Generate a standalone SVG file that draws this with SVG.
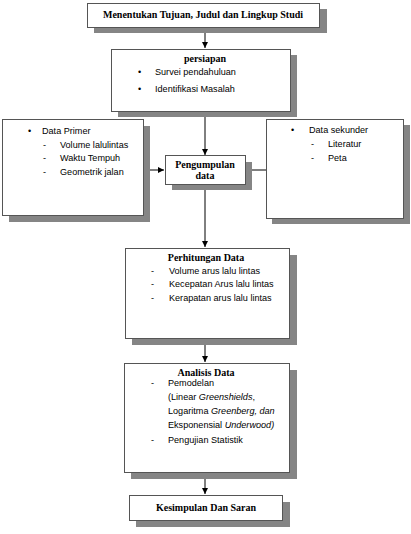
<svg xmlns="http://www.w3.org/2000/svg" width="411" height="534" viewBox="0 0 411 534">
<style>
.box{fill:#fff;stroke:#555;stroke-width:1}
.sh{fill:#858585}
.t{font-family:"Liberation Serif",serif;font-weight:bold;font-size:10px;fill:#000}
.b{font-family:"Liberation Sans",Arial,sans-serif;font-size:9.1px;fill:#000}
.c{stroke:#000;stroke-width:1;fill:none}
</style>
<defs>
<marker id="ah" markerWidth="6" markerHeight="6" refX="6" refY="3" orient="auto" markerUnits="userSpaceOnUse">
<path d="M0,0 L6,3 L0,6 z" fill="#000"/>
</marker>
</defs>
<rect width="411" height="534" fill="#fff"/>
<g id="connectors">
<line class="c" x1="205" y1="27" x2="205" y2="48" marker-end="url(#ah)"/>
<line class="c" x1="205" y1="111" x2="205" y2="155" marker-end="url(#ah)"/>
<line class="c" x1="143" y1="170" x2="164" y2="170" marker-end="url(#ah)"/>
<line class="c" x1="266" y1="170" x2="246" y2="170" marker-end="url(#ah)"/>
<line class="c" x1="205" y1="184" x2="205" y2="247" marker-end="url(#ah)"/>
<line class="c" x1="205" y1="338" x2="205" y2="362" marker-end="url(#ah)"/>
<line class="c" x1="205" y1="472" x2="205" y2="494" marker-end="url(#ah)"/>
</g>
<g id="n1">
<rect class="sh" x="94" y="9" width="233" height="24"/>
<rect class="box" x="87.5" y="3.5" width="232" height="24"/>
<text class="t" x="203" y="18" text-anchor="middle">Menentukan Tujuan, Judul dan Lingkup Studi</text>
</g>
<g id="n2">
<rect class="sh" x="118" y="55" width="179" height="62"/>
<rect class="box" x="111.5" y="49.5" width="179" height="62"/>
<text class="t" x="205" y="62" text-anchor="middle">persiapan</text>
<text class="b" x="138" y="75">•</text>
<text class="b" x="155" y="75">Survei pendahuluan</text>
<text class="b" x="138" y="92">•</text>
<text class="b" x="155" y="92">Identifikasi Masalah</text>
</g>
<g id="n3">
<rect class="sh" x="9" y="126" width="141" height="96"/>
<rect class="box" x="2.5" y="119.5" width="141" height="96"/>
<text class="b" x="28" y="134">•</text>
<text class="b" x="42" y="134">Data Primer</text>
<text class="b" x="43" y="148">-</text>
<text class="b" x="60" y="148">Volume lalulintas</text>
<text class="b" x="43" y="161">-</text>
<text class="b" x="60" y="161">Waktu  Tempuh</text>
<text class="b" x="43" y="175">-</text>
<text class="b" x="60" y="175">Geometrik jalan</text>
</g>
<g id="n4">
<rect class="sh" x="172" y="162" width="80" height="28"/>
<rect class="box" x="165.5" y="155.5" width="80" height="29"/>
<text class="t" x="205" y="168" text-anchor="middle">Pengumpulan</text>
<text class="t" x="205" y="179" text-anchor="middle">data</text>
</g>
<g id="n5">
<rect class="sh" x="272" y="125" width="138" height="99"/>
<rect class="box" x="266.5" y="119.5" width="137" height="99"/>
<text class="b" x="291" y="133">•</text>
<text class="b" x="309" y="133">Data sekunder</text>
<text class="b" x="311" y="147">-</text>
<text class="b" x="328" y="147">Literatur</text>
<text class="b" x="311" y="161">-</text>
<text class="b" x="328" y="161">Peta</text>
</g>
<g id="n6">
<rect class="sh" x="132" y="255" width="165" height="90"/>
<rect class="box" x="125.5" y="248.5" width="164" height="90"/>
<text class="t" x="206" y="261" text-anchor="middle">Perhitungan Data</text>
<text class="b" x="151" y="274">-</text>
<text class="b" x="169" y="274">Volume arus lalu lintas</text>
<text class="b" x="151" y="287">-</text>
<text class="b" x="169" y="287">Kecepatan Arus lalu lintas</text>
<text class="b" x="151" y="301">-</text>
<text class="b" x="169" y="301">Kerapatan arus lalu lintas</text>
</g>
<g id="n7">
<rect class="sh" x="131" y="370" width="166" height="109"/>
<rect class="box" x="124.5" y="363.5" width="165" height="109"/>
<text class="t" x="206" y="376" text-anchor="middle">Analisis Data</text>
<text class="b" x="151" y="386">-</text>
<text class="b" x="168" y="386">Pemodelan</text>
<text class="b" x="168" y="400">(Linear <tspan font-style="italic">Greenshields</tspan>,</text>
<text class="b" x="168" y="414">Logaritma <tspan font-style="italic">Greenberg, dan</tspan></text>
<text class="b" x="168" y="428">Eksponensial <tspan font-style="italic">Underwood)</tspan></text>
<text class="b" x="151" y="443">-</text>
<text class="b" x="168" y="443">Pengujian Statistik</text>
</g>
<g id="n8">
<rect class="sh" x="136" y="502" width="154" height="25"/>
<rect class="box" x="129.5" y="495.5" width="153" height="25"/>
<text class="t" x="206" y="511" text-anchor="middle">Kesimpulan Dan Saran</text>
</g>
</svg>
